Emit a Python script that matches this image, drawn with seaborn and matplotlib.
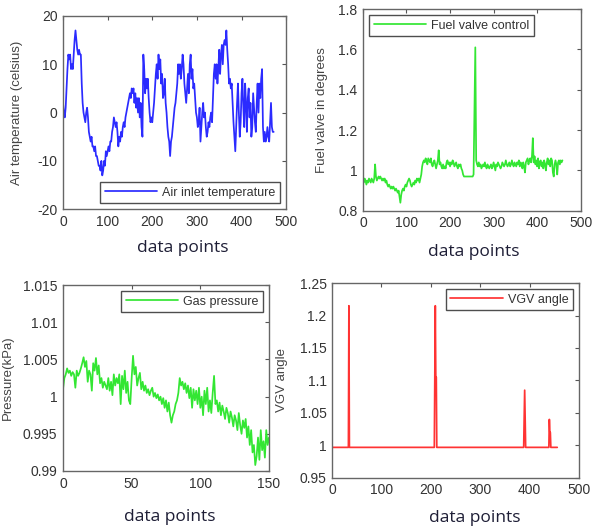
import numpy as np
import pandas as pd
import matplotlib
matplotlib.use("Agg")
import matplotlib.pyplot as plt
import seaborn as sns

# ---- data -------------------------------------------------------------
# air inlet temperature, sampled every 2 data points
air_step = 2
air_temp = [
    2, 0, -1, 1, 5, 9, 12, 11, 12, 9, 10, 9, 12, 15, 17, 15, 13, 12, 13, 12,
    12, 6, 2, 0, -1, -2, 0, 1, -1, -4, -5, -6, -5, -7, -7, -8, -7, -9, -9, -10,
    -11, -11, -12, -10, -13, -12, -10, -11, -8, -9, -8, -7, -8, -6, -6, -4, -3, -1, -2, -3,
    -2, -4, -7, -5, -6, -4, -5, -3, -2, -3, -1, 0, 1, 2, 3, 4, 3, 5, 4, 5,
    2, 4, 1, 3, 0, 3, -1, 2, -3, -5, 12, 9, 4, 7, 5, 7, 3, 0, -2, -1,
    -2, 0, 2, 5, 8, 10, 7, 12, 9, 11, 6, 8, 3, 4, 7, 2, 0, -3, -5, -6,
    -9, -6, -5, -3, -1, 1, 2, 4, 6, 10, 8, 10, 7, 9, 12, 10, 6, 4, 2, 5,
    8, 4, 10, 12, 7, 9, 5, 6, 3, 0, -1, -3, -2, 1, -6, -3, 0, 2, -1, 0,
    -3, -5, -4, -2, -3, -1, 0, -2, 3, 8, 10, 7, 10, 6, 9, 13, 8, 12, 14, 10,
    14, 15, 14, 17, 13, 10, 6, 7, 5, 6, 2, -2, -5, -8, -3, 2, 6, 0, -5, -2,
    4, 7, 1, -3, 6, 2, -4, 3, 5, -1, 2, -5, -3, 4, 1, -2, -4, 2, 6, 0,
    6, 3, 7, 9, -3, -6, -4, -6, -5, -3, -5, -6, -2, 2, -3, -4, -4,
]

# fuel valve control, sampled every 2 data points
fuel_step = 2
fuel_valve = [
    0.95, 0.94, 0.96, 0.95, 0.93, 0.95, 0.94, 0.96, 0.95, 0.94,
    0.96, 0.95, 0.94, 0.96, 1.03, 0.97, 0.95, 0.96, 0.97, 0.96,
    0.97, 0.96, 0.95, 0.96, 0.95, 0.96, 0.94, 0.95, 0.93, 0.92,
    0.93, 0.92, 0.91, 0.92, 0.91, 0.92, 0.91, 0.90, 0.91, 0.90,
    0.89, 0.90, 0.87, 0.84, 0.88, 0.90, 0.91, 0.90, 0.92, 0.93,
    0.92, 0.94, 0.95, 0.96, 0.95, 0.93, 0.92, 0.93, 0.94, 0.93,
    0.95, 0.94, 0.96, 0.95, 0.96, 0.94, 0.96, 0.98, 1.02, 1.04,
    1.05, 1.04, 1.06, 1.05, 1.03, 1.06, 1.05, 1.04, 1.06, 1.03,
    1.02, 1.04, 1.05, 1.03, 1.01, 1.03, 1.05, 1.10, 1.03, 1.04,
    1.02, 1.01, 1.03, 1.01, 1.02, 1.01, 1.04, 1.05, 1.03, 1.04,
    1.02, 1.04, 1.03, 1.05, 1.04, 1.02, 1.03, 1.04, 1.02, 1.01,
    1.03, 1.02, 1.03, 1.01, 1.00, 0.98, 0.97, 0.97, 0.97, 0.97,
    0.97, 0.97, 0.97, 0.97, 0.97, 0.97, 0.97, 0.98, 1.30, 1.61,
    1.05, 1.03, 1.02, 1.04, 1.02, 1.03, 1.01, 1.02, 1.03, 1.02,
    1.04, 1.02, 1.01, 1.03, 1.02, 1.01, 1.02, 1.03, 1.01, 1.02,
    1.04, 1.02, 1.00, 1.03, 1.02, 1.04, 1.03, 1.02, 1.01, 1.02,
    1.04, 1.03, 1.02, 1.03, 1.05, 1.03, 1.02, 1.03, 1.04, 1.02,
    1.03, 1.05, 1.03, 1.02, 1.04, 1.03, 1.02, 1.04, 1.03, 1.05,
    1.02, 1.04, 1.03, 1.01, 1.04, 1.02, 0.99, 1.04, 1.05, 1.06,
    1.03, 1.05, 1.06, 1.04, 1.07, 1.16, 1.04, 1.07, 1.03, 1.05,
    1.02, 1.06, 1.01, 1.04, 1.05, 1.02, 1.04, 1.01, 1.05, 1.03,
    1.00, 1.04, 1.06, 1.03, 1.05, 1.02, 1.06, 1.05, 0.99, 0.97,
    1.03, 1.05, 1.03, 0.98, 1.04, 1.05, 1.03, 1.05, 1.04, 1.05,
]

# gas pressure, one value per data point (0..150)
gas_pressure = [
    1.0010, 1.0025, 1.0030, 1.0038, 1.0032, 1.0035, 1.0028, 1.0033, 1.0030, 1.0012,
    1.0035, 1.0028, 1.0032, 1.0038, 1.0045, 1.0053, 1.0040, 1.0048, 1.0020, 1.0035,
    1.0030, 1.0008, 1.0045, 1.0035, 1.0052, 1.0030, 1.0042, 1.0018, 1.0025, 1.0012,
    1.0020, 1.0015, 1.0010, 1.0025, 1.0008, 1.0020, 1.0002, 1.0030, 1.0015, 1.0025,
    1.0018, 1.0030, 0.9990, 1.0028, 1.0010, 1.0035, 1.0005, 1.0020, 0.9995, 0.9990,
    1.0025, 1.0055, 1.0030, 1.0040, 1.0015, 1.0025, 1.0032, 1.0010, 1.0020, 1.0008,
    1.0015, 1.0005, 1.0010, 1.0002, 1.0008, 1.0012, 1.0000, 1.0005, 0.9998, 1.0003,
    0.9995, 1.0000, 0.9990, 0.9998, 0.9985, 0.9995, 0.9980, 0.9992, 0.9975, 0.9965,
    0.9975, 0.9980, 0.9990, 0.9995, 1.0005, 1.0025, 1.0015, 1.0020, 1.0010, 1.0018,
    1.0005, 1.0015, 0.9998, 1.0012, 0.9985, 1.0010, 0.9995, 1.0008, 0.9990, 1.0012,
    0.9985, 1.0000, 0.9975, 1.0008, 0.9990, 1.0012, 0.9980, 0.9995, 0.9978, 1.0005,
    1.0028, 0.9990, 0.9995, 0.9980, 0.9992, 0.9975, 0.9988, 0.9980, 0.9970, 0.9985,
    0.9978, 0.9965, 0.9980, 0.9972, 0.9960, 0.9975, 0.9968, 0.9955, 0.9978, 0.9962,
    0.9950, 0.9968, 0.9958, 0.9970, 0.9945, 0.9960, 0.9935, 0.9955, 0.9925, 0.9935,
    0.9908, 0.9920, 0.9945, 0.9915, 0.9955, 0.9928, 0.9940, 0.9918, 0.9955, 0.9935,
    0.9945,
]

# VGV angle: flat baseline with a few short spikes
vgv_points = 457
vgv_baseline = 0.997
vgv_spike_idx = [34, 208, 209, 210, 211, 389, 390, 391, 440, 441, 442]
vgv_spike_val = [1.215, 1.105, 1.215, 1.105, 1.105, 1.04, 1.085, 1.04, 1.04, 1.02, 1.02]

# ---- tables -------------------------------------------------------------
df_air = pd.DataFrame({"x": np.arange(len(air_temp)) * air_step, "y": air_temp})
df_fuel = pd.DataFrame({"x": np.arange(len(fuel_valve)) * fuel_step, "y": fuel_valve})
df_gas = pd.DataFrame({"x": np.arange(len(gas_pressure)), "y": gas_pressure})
vgv = np.full(vgv_points, vgv_baseline)
vgv[vgv_spike_idx] = vgv_spike_val
df_vgv = pd.DataFrame({"x": np.arange(vgv_points), "y": vgv})

# ---- figure -------------------------------------------------------------
sns.set_style("white")
plt.rcParams["font.family"] = ["Liberation Sans", "DejaVu Sans"]

fig = plt.figure(figsize=(5.92, 5.31), dpi=100)
ax_air = fig.add_axes([0.1064, 0.606, 0.377, 0.364])
ax_fuel = fig.add_axes([0.613, 0.603, 0.368, 0.380])
ax_gas = fig.add_axes([0.1064, 0.113, 0.348, 0.350])
ax_vgv = fig.add_axes([0.561, 0.100, 0.417, 0.367])

panels = [
    (ax_air, df_air, "#2b2bff", "Air inlet temperature", "Air temperature (celsius)",
     (0, 500), [0, 100, 200, 300, 400, 500], (-20, 20), [-20, -10, 0, 10, 20],
     ["-20", "-10", "0", "10", "20"], "lower right", -0.18),
    (ax_fuel, df_fuel, "#33e633", "Fuel valve control", "Fuel valve in degrees",
     (0, 500), [0, 100, 200, 300, 400, 500], (0.8, 1.8), [0.8, 1.0, 1.2, 1.4, 1.6, 1.8],
     ["0.8", "1", "1.2", "1.4", "1.6", "1.8"], "upper left", -0.16),
    (ax_gas, df_gas, "#33e633", "Gas pressure", "Pressure(kPa)",
     (0, 150), [0, 50, 100, 150], (0.99, 1.015),
     [0.99, 0.995, 1.0, 1.005, 1.01, 1.015],
     ["0.99", "0.995", "1", "1.005", "1.01", "1.015"], "upper right", -0.24),
    (ax_vgv, df_vgv, "#ff3333", "VGV angle", "VGV angle",
     (0, 500), [0, 100, 200, 300, 400, 500], (0.95, 1.25),
     [0.95, 1.0, 1.05, 1.1, 1.15, 1.2, 1.25],
     ["0.95", "1", "1.05", "1.1", "1.15", "1.2", "1.25"], "upper right", -0.18),
]

for (ax, df, color, leg, ylab, xlim, xticks, ylim, yticks, yticklabels,
     loc, ylab_x) in panels:
    sns.lineplot(data=df, x="x", y="y", ax=ax, color=color, linewidth=1.25,
                 label=leg, estimator=None, sort=False)
    ax.set_xlim(*xlim)
    ax.set_ylim(*ylim)
    ax.set_xticks(xticks)
    ax.set_xticklabels([str(t) for t in xticks])
    ax.set_yticks(yticks)
    ax.set_yticklabels(yticklabels)
    ax.set_xlabel("")
    ax.set_ylabel(ylab, fontsize=9.5, color="#444444")
    ax.yaxis.set_label_coords(ylab_x, 0.5)
    ax.tick_params(direction="in", length=3, width=0.8, colors="#555555",
                   labelcolor="#333333", labelsize=10, top=True, right=True,
                   pad=4)
    for sp in ax.spines.values():
        sp.set_visible(True)
        sp.set_color("#666666")
        sp.set_linewidth(1.0)
    lg = ax.legend(loc=loc, fontsize=9, frameon=True, fancybox=False,
                   handlelength=4.2, borderpad=0.35, handletextpad=0.4,
                   borderaxespad=0.5)
    lg.get_frame().set_edgecolor("#222222")
    lg.get_frame().set_linewidth(1.0)
    for t in lg.get_texts():
        t.set_color("#333333")

# shared x-axis captions beneath each panel
for (xc, yc) in [(183, 248), (474, 252), (170, 517), (475, 518)]:
    fig.text(xc / 592, 1 - yc / 531, "data points", ha="center", va="center",
             fontsize=12.5, color="#1e1e36", family=["Open Sans", "DejaVu Sans"])

fig.savefig("out.png", dpi=100)
